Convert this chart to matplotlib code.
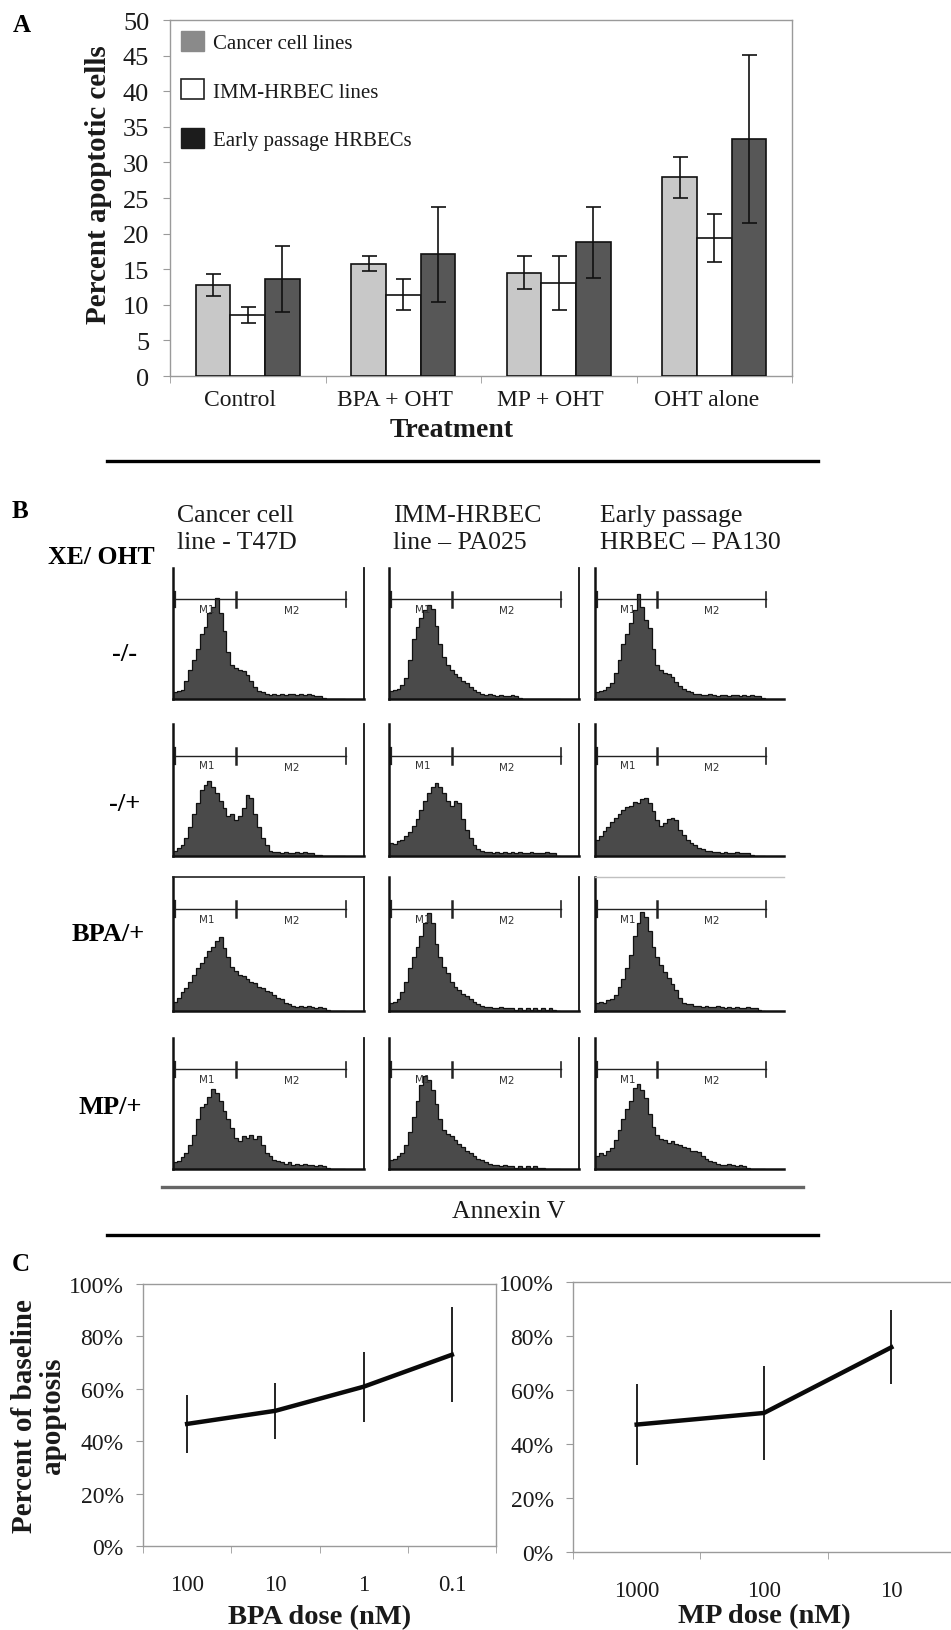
import numpy as np
import matplotlib
matplotlib.use('Agg')
import matplotlib.pyplot as plt
from matplotlib.lines import Line2D
from matplotlib.patches import Patch
from matplotlib.ticker import PercentFormatter
from matplotlib.transforms import ScaledTranslation

plt.rcParams['font.family'] = ['Liberation Serif', 'DejaVu Serif']

# ---------------- data ----------------
treatments = ['Control', 'BPA + OHT', 'MP + OHT', 'OHT alone']
series_names = ['Cancer cell lines', 'IMM-HRBEC lines', 'Early passage HRBECs']
cancer_vals = [12.8, 15.8, 14.5, 27.9]
cancer_err = [1.5, 1.1, 2.3, 2.9]
imm_vals = [8.6, 11.4, 13.1, 19.4]
imm_err = [1.1, 2.2, 3.8, 3.4]
early_vals = [13.6, 17.1, 18.8, 33.3]
early_err = [4.6, 6.7, 5.0, 11.8]

col_titles = ['Cancer cell\nline - T47D', 'IMM-HRBEC\nline \u2013 PA025', 'Early passage\nHRBEC \u2013 PA130']
row_labels = ['-/-', '-/+', 'BPA/+', 'MP/+']

# flow histograms: relative counts (fraction of panel height) per channel bin
h_t47d_ctrl = [0.05,0.06,0.07,0.14,0.22,0.30,0.38,0.50,0.55,0.66,0.70,0.77,0.66,0.52,0.36,0.26,0.24,0.22,0.21,0.18,
               0.14,0.09,0.06,0.05,0.04,0.03,0.04,0.03,0.04,0.03,0.04,0.04,0.03,0.04,0.03,0.04,0.03,0.02,0.02,0.01,0,0,0,0,0]
h_t47d_oht = [0.04,0.06,0.08,0.14,0.22,0.32,0.40,0.50,0.54,0.57,0.52,0.48,0.42,0.36,0.30,0.32,0.27,0.30,0.36,0.46,
              0.44,0.32,0.22,0.14,0.08,0.04,0.03,0.03,0.02,0.03,0.02,0.02,0.03,0.02,0.03,0.02,0.02,0.01,0.01,0,0,0,0,0,0]
h_t47d_bpa = [0.07,0.10,0.14,0.17,0.22,0.27,0.32,0.36,0.40,0.45,0.48,0.52,0.55,0.47,0.40,0.33,0.30,0.27,0.26,0.24,
              0.22,0.21,0.18,0.17,0.15,0.14,0.12,0.10,0.09,0.06,0.05,0.04,0.03,0.04,0.03,0.04,0.03,0.02,0.03,0.02,0.01,0,0,0,0]
h_t47d_mp = [0.05,0.06,0.09,0.12,0.18,0.26,0.38,0.47,0.50,0.55,0.61,0.58,0.52,0.44,0.38,0.31,0.24,0.21,0.25,0.24,
             0.26,0.23,0.25,0.18,0.12,0.10,0.07,0.06,0.05,0.04,0.05,0.03,0.04,0.03,0.04,0.03,0.03,0.02,0.03,0.02,0.01,0,0,0,0]
h_pa025_ctrl = [0.06,0.07,0.08,0.11,0.16,0.30,0.46,0.55,0.62,0.68,0.72,0.69,0.56,0.42,0.32,0.26,0.22,0.19,0.17,0.14,
                0.12,0.09,0.07,0.05,0.04,0.03,0.04,0.03,0.02,0.03,0.02,0.02,0.03,0.02,0.01,0,0,0,0,0,0,0,0,0,0]
h_pa025_oht = [0.10,0.09,0.11,0.12,0.15,0.18,0.23,0.28,0.35,0.42,0.48,0.52,0.55,0.52,0.48,0.42,0.38,0.42,0.40,0.28,
               0.20,0.14,0.08,0.05,0.04,0.03,0.03,0.02,0.03,0.02,0.03,0.02,0.03,0.02,0.03,0.02,0.02,0.03,0.02,0.02,0.02,0.03,0.02,0.02,0]
h_pa025_bpa = [0.06,0.07,0.09,0.14,0.22,0.32,0.40,0.48,0.56,0.66,0.73,0.66,0.50,0.40,0.33,0.28,0.22,0.18,0.16,0.13,
               0.11,0.09,0.07,0.05,0.04,0.03,0.03,0.02,0.02,0.03,0.02,0.02,0.02,0.01,0.02,0.01,0.02,0.01,0.02,0.01,0.02,0.01,0.02,0.01,0]
h_pa025_mp = [0.07,0.08,0.10,0.12,0.18,0.28,0.40,0.52,0.64,0.71,0.68,0.60,0.50,0.38,0.30,0.27,0.25,0.22,0.19,0.17,
              0.14,0.12,0.10,0.08,0.07,0.05,0.04,0.03,0.03,0.02,0.03,0.02,0.02,0.01,0.02,0.01,0.02,0.01,0.02,0.01,0.01,0,0,0,0]
h_pa130_ctrl = [0.05,0.06,0.07,0.09,0.12,0.20,0.30,0.42,0.50,0.58,0.68,0.80,0.70,0.60,0.54,0.38,0.26,0.22,0.20,0.19,
                0.17,0.13,0.10,0.08,0.06,0.05,0.04,0.04,0.03,0.03,0.04,0.03,0.02,0.03,0.03,0.02,0.03,0.03,0.02,0.03,0.02,0.03,0.02,0.02,0.01]
h_pa130_oht = [0.12,0.15,0.19,0.22,0.26,0.29,0.32,0.35,0.37,0.38,0.41,0.40,0.43,0.44,0.40,0.34,0.27,0.23,0.25,0.28,
               0.29,0.27,0.20,0.16,0.12,0.10,0.08,0.06,0.05,0.04,0.04,0.03,0.03,0.02,0.03,0.02,0.02,0.03,0.02,0.02,0.02,0.01,0,0,0]
h_pa130_bpa = [0.06,0.07,0.06,0.08,0.09,0.12,0.18,0.24,0.32,0.42,0.56,0.66,0.74,0.70,0.60,0.48,0.40,0.34,0.29,0.25,
               0.20,0.16,0.10,0.06,0.05,0.05,0.04,0.04,0.03,0.04,0.03,0.03,0.04,0.03,0.02,0.03,0.02,0.03,0.02,0.02,0.03,0.02,0.02,0.01,0]
h_pa130_mp = [0.10,0.12,0.11,0.14,0.16,0.22,0.30,0.38,0.46,0.52,0.62,0.65,0.60,0.54,0.42,0.32,0.26,0.23,0.22,0.20,
              0.21,0.19,0.18,0.17,0.16,0.14,0.14,0.13,0.10,0.08,0.06,0.05,0.04,0.03,0.03,0.04,0.03,0.02,0.03,0.02,0.01,0,0,0,0]

hist_grid = [[h_t47d_ctrl, h_pa025_ctrl, h_pa130_ctrl],
             [h_t47d_oht, h_pa025_oht, h_pa130_oht],
             [h_t47d_bpa, h_pa025_bpa, h_pa130_bpa],
             [h_t47d_mp, h_pa025_mp, h_pa130_mp]]

bpa_doses = ['100', '10', '1', '0.1']
bpa_vals = [46.6, 51.6, 60.8, 73.0]
bpa_err = [11.2, 10.7, 13.3, 18.2]
mp_doses = ['1000', '100', '10']
mp_vals = [47.2, 51.5, 75.8]
mp_err = [15.0, 17.5, 13.7]

# ---------------- figure ----------------
W, H = 951, 1631
fig = plt.figure(figsize=(W / 100, H / 100), dpi=100)


def box(x0, y0, x1, y1):
    return [x0 / W, 1 - y1 / H, (x1 - x0) / W, (y1 - y0) / H]


TXT = '#1a1a1a'
SP = '#9a9a9a'

# ---------------- Panel A ----------------
axA = fig.add_axes(box(170, 21, 792, 377))
x = np.arange(len(treatments))
bw = 0.222
bar_specs = [(cancer_vals, cancer_err, '#c8c8c8'),
             (imm_vals, imm_err, 'white'),
             (early_vals, early_err, '#575757')]
for i, (vals, errs, col) in enumerate(bar_specs):
    axA.bar(x + (i - 1) * bw, vals, bw, color=col, edgecolor='#111111', linewidth=1.2,
            yerr=errs, error_kw=dict(ecolor='#111111', elinewidth=1.2, capsize=5.4, capthick=1.2),
            zorder=3)
axA.set_xlim(-0.5, len(treatments) - 0.5)
axA.set_ylim(0, 50)
axA.set_yticks(np.arange(0, 51, 5))
axA.set_xticks(x)
axA.set_xticklabels(treatments)
axA.set_xticks(np.arange(-0.5, len(treatments), 1), minor=True)
axA.tick_params(axis='x', which='major', length=0, pad=9, labelsize=17, labelcolor=TXT)
axA.tick_params(axis='x', which='minor', length=5, color=SP, direction='out')
axA.tick_params(axis='y', length=5, color=SP, direction='out', labelsize=19, pad=10, labelcolor=TXT)
shift = ScaledTranslation(-8 / 100, 0, fig.dpi_scale_trans)
for lab in axA.get_xticklabels():
    lab.set_transform(lab.get_transform() + shift)
for s in axA.spines.values():
    s.set_color(SP)
    s.set_linewidth(1.0)
axA.set_ylabel('Percent apoptotic cells', fontsize=21, fontweight='bold', color=TXT)
axA.yaxis.set_label_coords(-0.094, 0.539)
axA.set_xlabel('Treatment', fontsize=20, fontweight='bold', color=TXT)
axA.xaxis.set_label_coords(0.452, -0.115)

handles = [Patch(facecolor='#8a8a8a', edgecolor='#8a8a8a'),
           Patch(facecolor='white', edgecolor='#222222', linewidth=1.2),
           Patch(facecolor='#1c1c1c', edgecolor='#1c1c1c')]
axA.legend(handles, series_names, loc='upper left', bbox_to_anchor=(0.018, 0.97),
           frameon=False, fontsize=15, handlelength=1.1, handleheight=1.1,
           handletextpad=0.42, labelspacing=1.28, borderpad=0, borderaxespad=0,
           labelcolor=TXT)

fig.text(13 / W, 1 - 25 / H, 'A', fontsize=18, fontweight='bold', va='center', ha='left')
fig.add_artist(Line2D([107 / W, 818 / W], [1 - 462 / H] * 2, color='black', lw=2.4))

# ---------------- Panel B ----------------
fig.text(12 / W, 1 - 512 / H, 'B', fontsize=18, fontweight='bold', va='center', ha='left')
col_x = [(173, 364), (389, 579), (595, 784)]
row_y = [(569, 700), (725, 857), (878, 1012), (1039, 1170)]
title_x = [177, 393, 600]
for c, t in enumerate(col_titles):
    fig.text(title_x[c] / W, 1 - 505 / H, t, fontsize=18.5, va='top', ha='left',
             linespacing=1.32, color=TXT)
fig.text(48 / W, 1 - 558 / H, 'XE/ OHT', fontsize=18.5, fontweight='bold', va='center', ha='left')
row_lab_pos = [(125, 655), (125, 805), (108, 935), (110, 1107)]
for r, lab in enumerate(row_labels):
    fig.text(row_lab_pos[r][0] / W, 1 - row_lab_pos[r][1] / H, lab, fontsize=19,
             fontweight='bold', va='center', ha='center')

for r in range(4):
    for c in range(3):
        ax = fig.add_axes(box(col_x[c][0], row_y[r][0], col_x[c][1], row_y[r][1]))
        vals = np.array(hist_grid[r][c])
        edges = np.arange(len(vals) + 1) * 0.02
        ax.stairs(vals, edges, fill=True, color='#4a4a4a', baseline=0)
        ax.stairs(vals, edges, color='#111111', linewidth=0.9, baseline=0)
        ax.set_xlim(0, 1)
        ax.set_ylim(0, 1)
        ax.set_xticks([])
        ax.set_yticks([])
        ax.spines['left'].set_linewidth(1.8)
        ax.spines['bottom'].set_linewidth(1.8)
        ax.spines['left'].set_color('#111111')
        ax.spines['bottom'].set_color('#111111')
        ax.spines['right'].set_visible(c < 2)
        ax.spines['right'].set_color('#111111')
        ax.spines['right'].set_linewidth(1.3)
        if r == 2 and c == 0:
            ax.spines['top'].set_color('#222222')
            ax.spines['top'].set_linewidth(1.2)
        elif r == 2 and c == 2:
            ax.spines['top'].set_color('#c0c0c0')
            ax.spines['top'].set_linewidth(1.0)
        else:
            ax.spines['top'].set_visible(False)
        # gate markers M1 / M2
        gy = 0.76
        ax.plot([0.01, 0.905], [gy, gy], color='#222222', lw=1.0, transform=ax.transAxes)
        for gx, lw in [(0.01, 1.6), (0.33, 1.8), (0.905, 1.2)]:
            ax.plot([gx, gx], [gy - 0.06, gy + 0.06], color='#222222', lw=lw,
                    transform=ax.transAxes)
        ax.text(0.175, gy - 0.035, 'M1', fontsize=7.5, family='DejaVu Sans', color='#333333',
                ha='center', va='top', transform=ax.transAxes)
        ax.text(0.62, gy - 0.045, 'M2', fontsize=7.5, family='DejaVu Sans', color='#333333',
                ha='center', va='top', transform=ax.transAxes)

fig.add_artist(Line2D([162 / W, 803 / W], [1 - 1188 / H] * 2, color='#666666', lw=2.4))
fig.text(509 / W, 1 - 1212 / H, 'Annexin V', fontsize=18.5, ha='center', va='center', color=TXT)
fig.add_artist(Line2D([107 / W, 818 / W], [1 - 1236 / H] * 2, color='black', lw=2.4))

# ---------------- Panel C ----------------
fig.text(12 / W, 1 - 1265 / H, 'C', fontsize=18, fontweight='bold', va='center', ha='left')


def dose_panel(rect, doses, vals, errs, xlabel, show_right=True):
    ax = fig.add_axes(rect)
    xc = np.arange(len(doses)) + 0.5
    ax.errorbar(xc, vals, yerr=errs, color='#0a0a0a', lw=3.2, elinewidth=1.3,
                ecolor='#111111', capsize=0, zorder=3)
    ax.set_xlim(0, len(doses))
    ax.set_ylim(0, 100)
    ax.set_yticks(np.arange(0, 101, 20))
    ax.yaxis.set_major_formatter(PercentFormatter(100, decimals=0))
    ax.set_xticks(xc)
    ax.set_xticklabels(doses)
    ax.set_xticks(np.arange(0, len(doses) + 1), minor=True)
    ax.tick_params(axis='x', which='major', length=0, pad=20, labelsize=16.5, labelcolor=TXT)
    ax.tick_params(axis='x', which='minor', length=5, color=SP, direction='out')
    ax.tick_params(axis='y', length=5, color=SP, direction='out', labelsize=17, pad=9,
                   labelcolor=TXT)
    for s in ax.spines.values():
        s.set_color(SP)
        s.set_linewidth(1.0)
    ax.spines['right'].set_visible(show_right)
    ax.set_xlabel(xlabel, fontsize=20.5, fontweight='bold', color=TXT)
    return ax


axC1 = dose_panel(box(143, 1285, 496, 1547), bpa_doses, bpa_vals, bpa_err, 'BPA dose (nM)')
axC1.xaxis.set_label_coords(0.5, -0.22)
axC1.set_ylabel('Percent of baseline\napoptosis', fontsize=21, fontweight='bold', color=TXT,
                linespacing=1.05)
axC1.yaxis.set_label_coords(-0.218, 0.5)
axC2 = dose_panel(box(573, 1283, 955, 1553), mp_doses, mp_vals, mp_err, 'MP dose (nM)',
                  show_right=False)
axC2.xaxis.set_label_coords(0.5, -0.19)

fig.savefig('out.png', dpi=100, facecolor='white')
